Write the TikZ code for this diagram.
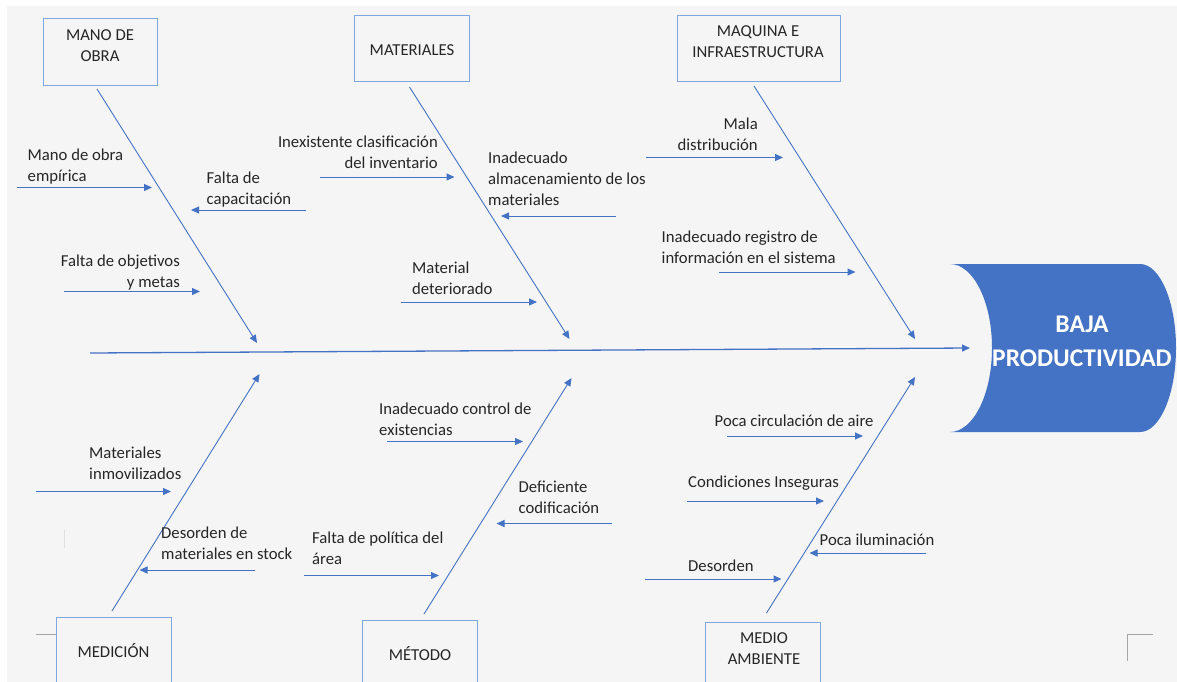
\documentclass[tikz,border=0pt]{standalone}
\usepackage{fontspec}
\setmainfont{Carlito}
\usetikzlibrary{arrows.meta}
\definecolor{fishblue}{HTML}{4472C4}
\definecolor{boxblue}{HTML}{7FA6DD}
\definecolor{paper}{HTML}{F5F5F5}
\definecolor{ink}{HTML}{262626}
\begin{document}
\begin{tikzpicture}[x=1pt, y=-1pt,
    cat/.style={draw=boxblue, line width=1pt, inner sep=0pt, minimum height=67pt, minimum width=115pt},
    lbl/.style={text=ink, font=\fontsize{16.7}{21}\selectfont, inner sep=0pt},
    bone/.style={draw=fishblue, line width=0.9pt, -{Triangle[length=8pt,width=7pt]}},
    cause/.style={draw=fishblue, line width=1pt, -{Triangle[length=8pt,width=7pt]}},
    pagemark/.style={draw=gray!70, line width=1pt}]
\useasboundingbox (0,0) rectangle (1177,682);
\fill[paper] (7,6) rectangle (1177,682);
\draw[pagemark, draw=gray!25] (64,530) -- (64,548);
\draw[pagemark] (36,634) -- (56,634);
\draw[pagemark] (1153,634) -- (1127,634) -- (1127,661);
% efecto
\fill[fishblue] (950,264) -- (1140,264) arc[start angle=-90, end angle=90, x radius=36, y radius=84]
    -- (950,432) arc[start angle=90, end angle=-90, x radius=42, y radius=84] -- cycle;
\node[lbl, text=white, font=\bfseries\fontsize{25.5}{34}\selectfont, align=center, anchor=base] (eff) at (1082,366) {BAJA\\PRODUCTIVIDAD};
\coordinate (spS) at (90,353); \coordinate (spE) at (970,348);
\draw[bone, line width=1.3pt] (spS) -- (spE);
% categorias
\node[cat, minimum width=114pt] (mo) at (100,52.5) {};
\node[lbl, align=center, anchor=base] (moT) at (100,62) {MANO DE\\OBRA};
\node[cat, minimum height=66pt] (ma) at (411.5,49) {};
\node[lbl, anchor=base] (maT) at (412,56) {MATERIALES};
\node[cat, minimum height=66pt, minimum width=163pt] (mq) at (758.5,49) {};
\node[lbl, align=center, anchor=base] (mqT) at (758,58) {MAQUINA E\\INFRAESTRUCTURA};
\node[cat, minimum height=70pt] (med) at (113.5,652) {};
\node[lbl, anchor=base] (medT) at (113.5,657) {MEDICIÓN};
\node[cat, minimum height=70pt] (met) at (419.7,655) {};
\node[lbl, anchor=base] (metT) at (420,660) {MÉTODO};
\node[cat, minimum height=70pt] (amb) at (763,657) {};
\node[lbl, align=center, anchor=base] (ambT) at (764,664.5) {MEDIO\\AMBIENTE};
% espinas
\coordinate (moS) at (97,89); \coordinate (moE) at (257,343);
\coordinate (maS) at (409.5,87); \coordinate (maE) at (569.5,339);
\coordinate (mqS) at (754,86); \coordinate (mqE) at (915,339);
\coordinate (medS) at (112,611); \coordinate (medE) at (259.5,374);
\coordinate (metS) at (424,614); \coordinate (metE) at (571.5,378);
\coordinate (ambS) at (766.5,613); \coordinate (ambE) at (915,377);
\draw[bone] (moS) -- (moE);
\draw[bone] (maS) -- (maE);
\draw[bone] (mqS) -- (mqE);
\draw[bone] (medS) -- (medE);
\draw[bone] (metS) -- (metE);
\draw[bone] (ambS) -- (ambE);
% mano de obra
\node[lbl, align=left, anchor=base west] (c1) at (27.5,181) {Mano de obra\\empírica};
\coordinate (c1s) at (16.5,187.5); \coordinate (c1e) at (152,187.5); \draw[cause] (c1s) -- (c1e);
\node[lbl, align=left, anchor=base west] (c2) at (206.5,204) {Falta de\\capacitación};
\coordinate (c2s) at (306,210); \coordinate (c2e) at (191,210); \draw[cause] (c2s) -- (c2e);
\node[lbl, align=right, anchor=base east] (c3) at (180,287) {Falta de objetivos\\y metas};
\coordinate (c3s) at (64,291.5); \coordinate (c3e) at (200,291.5); \draw[cause] (c3s) -- (c3e);
% materiales
\node[lbl, align=right, anchor=base east] (c4) at (438,168) {Inexistente clasificación\\del inventario};
\coordinate (c4s) at (319.5,177); \coordinate (c4e) at (454.5,177); \draw[cause] (c4s) -- (c4e);
\node[lbl, align=left, anchor=base west] (c5) at (488,205) {Inadecuado\\almacenamiento de los\\materiales};
\coordinate (c5s) at (616,216); \coordinate (c5e) at (501,216); \draw[cause] (c5s) -- (c5e);
\node[lbl, align=left, anchor=base west] (c6) at (412,294) {Material\\deteriorado};
\coordinate (c6s) at (401,302); \coordinate (c6e) at (537,302); \draw[cause] (c6s) -- (c6e);
% maquina
\node[lbl, align=right, anchor=base east] (c7) at (758,150) {Mala\\distribución};
\coordinate (c7s) at (646,157.5); \coordinate (c7e) at (783,157.5); \draw[cause] (c7s) -- (c7e);
\node[lbl, align=left, anchor=base west] (c8) at (661.5,263) {Inadecuado registro de\\información en el sistema};
\coordinate (c8s) at (719,272); \coordinate (c8e) at (855.5,272); \draw[cause] (c8s) -- (c8e);
% medicion
\node[lbl, align=left, anchor=base west] (c9) at (89,479) {Materiales\\inmovilizados};
\coordinate (c9s) at (35.5,491.5); \coordinate (c9e) at (171,491.5); \draw[cause] (c9s) -- (c9e);
\node[lbl, align=left, anchor=base west] (c10) at (161,559.5) {Desorden de\\materiales en stock};
\coordinate (c10s) at (254.5,570); \coordinate (c10e) at (139.5,570); \draw[cause] (c10s) -- (c10e);
% metodo
\node[lbl, align=left, anchor=base west] (c11) at (379,435.5) {Inadecuado control de\\existencias};
\coordinate (c11s) at (387,441.5); \coordinate (c11e) at (523,441.5); \draw[cause] (c11s) -- (c11e);
\node[lbl, align=left, anchor=base west] (c12) at (312,564) {Falta de política del\\área};
\coordinate (c12s) at (303.5,575.5); \coordinate (c12e) at (439,575.5); \draw[cause] (c12s) -- (c12e);
\node[lbl, align=left, anchor=base west] (c13) at (518.5,513) {Deficiente\\codificación};
\coordinate (c13s) at (612,523.5); \coordinate (c13e) at (496.5,523.5); \draw[cause] (c13s) -- (c13e);
% medio ambiente
\node[lbl, anchor=base west] (c14) at (714.5,426) {Poca circulación de aire};
\coordinate (c14s) at (727,436); \coordinate (c14e) at (863,436); \draw[cause] (c14s) -- (c14e);
\node[lbl, anchor=base west] (c15) at (688,487.5) {Condiciones Inseguras};
\coordinate (c15s) at (687,501); \coordinate (c15e) at (824,501); \draw[cause] (c15s) -- (c15e);
\node[lbl, anchor=base west] (c16) at (819.5,545) {Poca iluminación};
\coordinate (c16s) at (925.5,553); \coordinate (c16e) at (809.5,553); \draw[cause] (c16s) -- (c16e);
\node[lbl, anchor=base west] (c17) at (688,571) {Desorden};
\coordinate (c17s) at (645,579); \coordinate (c17e) at (781.5,579); \draw[cause] (c17s) -- (c17e);
\end{tikzpicture}
\end{document}
